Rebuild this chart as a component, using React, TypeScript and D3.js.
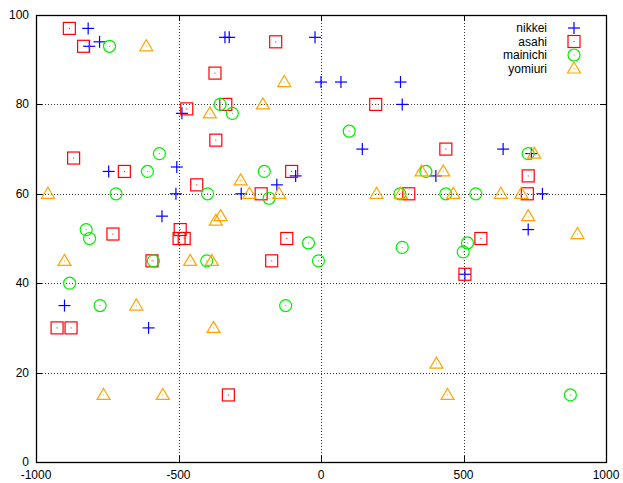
import React from "react";
import * as d3 from "d3";

const nikkeiX = [-817, -813, -777, -488, -337, -322, -21, 0, 70, 279, 285, 145, 639, 738, -745, -506, -509, -558, -900, -605, -89, -155, -280, 403, 505, 777, 727];
const nikkeiY = [97, 93, 94, 78, 95, 95, 95, 85, 85, 85, 80, 70, 70, 69, 65, 66, 60, 55, 35, 30, 64, 62, 60, 64, 42, 60, 52];

const asahiX = [-883, -833, -471, -868, -159, -372, -334, -369, 192, 438, -690, -730, -494, -498, -480, -593, -103, -436, -210, -120, -173, 308, 561, 505, 727, 724, -926, -877, -325];
const asahiY = [97, 93, 79, 68, 94, 87, 80, 72, 80, 70, 65, 51, 52, 50, 50, 45, 65, 62, 60, 50, 45, 60, 50, 42, 64, 60, 30, 30, 15];

const mainichiX = [-742, -567, -354, -311, 99, 727, -609, -719, -824, -812, -588, -882, -775, -199, -398, -182, -44, -9, -401, -124, 368, 277, 438, 543, 514, 499, 285, 875];
const mainichiY = [93, 69, 80, 78, 74, 69, 65, 60, 52, 50, 45, 40, 35, 65, 60, 59, 49, 45, 45, 35, 65, 60, 60, 60, 49, 47, 48, 15];

const yomiuriX = [-613, -129, -390, -204, 748, -958, -900, -648, -282, -251, -147, -352, -369, -459, -383, 353, 429, 195, 280, 464, 703, 631, 727, 900, -377, -763, -555, 405, 444];
const yomiuriY = [93, 85, 78, 80, 69, 60, 45, 35, 63, 60, 60, 55, 54, 45, 45, 65, 65, 60, 60, 60, 60, 60, 55, 51, 30, 15, 15, 22, 15];

const xTicks = [-1000, -500, 0, 500, 1000];
const yTicks = [0, 20, 40, 60, 80, 100];
const seriesNames = ["nikkei", "asahi", "mainichi", "yomiuri"];
const seriesColors = ["#0000ff", "#ff0000", "#00ee00", "#ffa500"];

const W = 623, H = 483;
const M = { left: 36, right: 17, top: 15, bottom: 21 };

function Marker({ kind, x, y, color }: { kind: number; x: number; y: number; color: string }) {
  const s = 6;
  if (kind === 0) {
    return (
      <g stroke={color} strokeWidth={1.2} fill="none">
        <line x1={x - s} x2={x + s} y1={y} y2={y} />
        <line x1={x} x2={x} y1={y - s} y2={y + s} />
      </g>
    );
  }
  if (kind === 1) {
    return (
      <g stroke={color} strokeWidth={1.2} fill="none">
        <rect x={x - s} y={y - s} width={2 * s} height={2 * s} />
        <rect x={x - 0.5} y={y - 0.5} width={1} height={1} fill={color} stroke="none" />
      </g>
    );
  }
  if (kind === 2) {
    return (
      <g stroke={color} strokeWidth={1.2} fill="none">
        <circle cx={x} cy={y} r={s} />
        <rect x={x - 0.5} y={y - 0.5} width={1} height={1} fill={color} stroke="none" />
      </g>
    );
  }
  return (
    <g stroke={color} strokeWidth={1.2} fill="none">
      <path d={`M${x},${y - 6.5}L${x + 6.5},${y + 4.5}L${x - 6.5},${y + 4.5}Z`} />
      <rect x={x - 0.5} y={y - 0.5} width={1} height={1} fill={color} stroke="none" />
    </g>
  );
}

export default function App() {
  const x = d3.scaleLinear().domain([-1000, 1000]).range([M.left, W - M.right]);
  const y = d3.scaleLinear().domain([0, 100]).range([H - M.bottom, M.top]);
  const series = [
    [nikkeiX, nikkeiY],
    [asahiX, asahiY],
    [mainichiX, mainichiY],
    [yomiuriX, yomiuriY],
  ];
  const x0 = M.left, x1 = W - M.right, y0 = H - M.bottom, y1 = M.top;
  const font = "'Liberation Sans', Arial, sans-serif";
  return (
    <svg width={W} height={H} style={{ position: "absolute", left: 0, top: 0, background: "#fff" }} fontFamily={font}>
      <g stroke="#333" strokeWidth={1} strokeDasharray="1,2">
        {xTicks.slice(1, -1).map((t) => (
          <line key={"gx" + t} x1={Math.round(x(t)) + 0.5} x2={Math.round(x(t)) + 0.5} y1={y0} y2={y1} />
        ))}
        {yTicks.slice(1, -1).map((t) => (
          <line key={"gy" + t} x1={x0} x2={x1} y1={Math.round(y(t)) + 0.5} y2={Math.round(y(t)) + 0.5} />
        ))}
      </g>
      <g stroke="#000" strokeWidth={1}>
        {xTicks.map((t) => {
          const px = Math.round(x(t)) + 0.5;
          return (
            <g key={"tx" + t}>
              <line x1={px} x2={px} y1={y0} y2={y0 - 6} />
              <line x1={px} x2={px} y1={y1} y2={y1 + 6} />
            </g>
          );
        })}
        {yTicks.map((t) => {
          const py = Math.round(y(t)) + 0.5;
          return (
            <g key={"ty" + t}>
              <line x1={x0} x2={x0 + 6} y1={py} y2={py} />
              <line x1={x1} x2={x1 - 6} y1={py} y2={py} />
            </g>
          );
        })}
      </g>
      <rect x={x0 + 0.5} y={y1 + 0.5} width={x1 - x0} height={y0 - y1} fill="none" stroke="#000" strokeWidth={1.3} />
      <g fontSize={12} fill="#000">
        {xTicks.map((t) => (
          <text key={"lx" + t} x={x(t)} y={y0 + 17} textAnchor="middle">{t}</text>
        ))}
        {yTicks.map((t) => (
          <text key={"ly" + t} x={x0 - 7} y={y(t) + 4} textAnchor="end">{t}</text>
        ))}
      </g>
      {series.map(([xs, ys], si) => (
        <g key={"s" + si}>
          {xs.map((v, i) => (
            <Marker key={i} kind={si} x={x(v)} y={y(ys[i])} color={seriesColors[si]} />
          ))}
        </g>
      ))}
      {seriesNames.map((n, i) => {
        const ly = 28 + i * 13.5;
        return (
          <g key={"lg" + n}>
            <text x={547} y={ly + 4} textAnchor="end" fontSize={12} fill="#000">{n}</text>
            <Marker kind={i} x={574} y={ly} color={seriesColors[i]} />
          </g>
        );
      })}
    </svg>
  );
}
